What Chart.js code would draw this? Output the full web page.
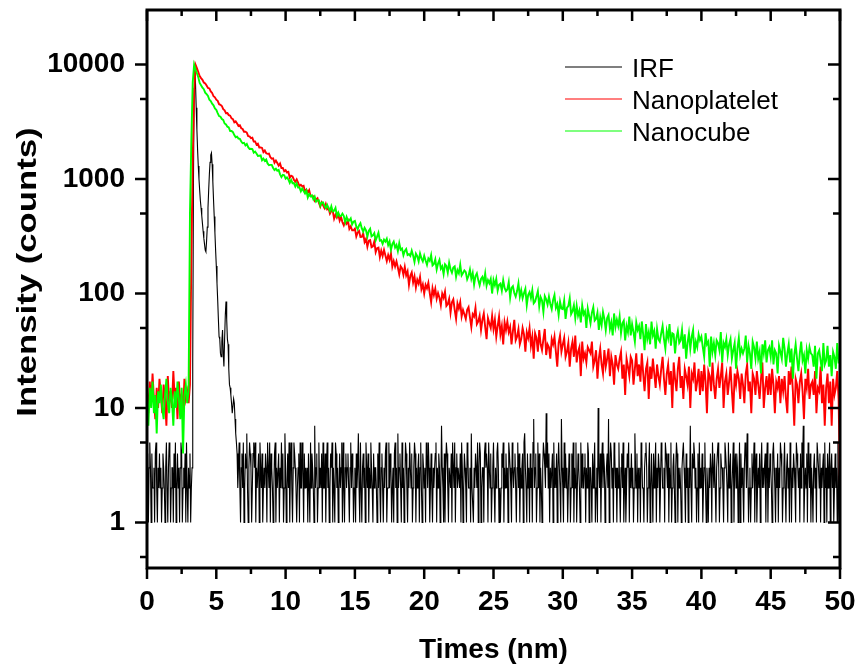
<!DOCTYPE html>
<html>
<head>
<meta charset="utf-8">
<title>PL decay</title>
<script src="https://cdn.jsdelivr.net/npm/chart.js@4.4.1/dist/chart.umd.min.js"></script>
<style>
  html, body { margin: 0; padding: 0; background: #fff; }
  #wrap { width: 862px; height: 672px; }
</style>
</head>
<body>
<div id="wrap"><canvas id="decayChart" width="862" height="672"></canvas></div>
<script>
// channel widths in ns
const irfStep = 0.05;
const plStep = 0.1;

const seriesLabels = ["IRF", "Nanoplatelet", "Nanocube"];
const seriesColors = ["#000000", "#ff0000", "#00ff00"];

// IRF counts, 0 - 3.25 ns
const irfBefore = [
  2,4,1,3,5,3,1,4,2,2,3,1,4,5,2,1,3,2,4,2,
  3,1,2,4,3,2,1,3,5,2,1,3,5,4,1,2,3,3,1,4,
  2,5,1,2,4,2,3,1,3,5,4,1,2,3,2,4,1,5,2,1,
  3,2,4,1,2,3
];
// IRF pulse, 3.30 - 6.45 ns
const irfPulse = [
  25,900,6200,10000,6800,4200,2700,1800,1300,1000,
  800,650,560,480,410,350,305,270,240,232,
  290,380,560,800,1100,1400,1620,1690,1350,950,
  660,470,340,240,174,123,88,60,42,40,
  30,28,38,48,30,23,40,65,85,60,
  40,36,22,16,15,13,11,9,9,12,
  11,8,6,5
];
// IRF background, 6.50 - 50 ns
const irfAfter = [
  4,2,3,5,2,1,3,4,2,5,1,2,4,3,6,2,1,3,5,4,
  3,1,2,4,5,3,5,1,3,2,2,4,1,5,3,2,4,1,2,3,
  2,4,3,1,5,3,2,5,1,4,3,2,1,2,4,5,1,3,2,2,
  4,1,3,2,5,2,4,1,2,6,3,1,2,4,2,5,1,3,5,2,
  1,3,5,4,3,2,1,2,3,4,1,5,2,2,5,3,1,4,2,3,
  2,3,1,4,2,1,5,2,4,3,2,1,7,2,3,4,1,2,5,2,
  3,2,4,1,5,2,2,4,1,3,5,2,3,1,2,4,3,5,1,3,
  2,1,5,4,2,3,1,2,4,2,3,5,1,5,2,1,3,4,2,3,
  4,2,1,3,5,2,4,3,1,2,3,1,4,2,3,6,2,1,5,2,
  1,3,4,2,3,1,5,3,2,4,1,3,2,5,3,2,1,4,2,3,
  3,2,1,4,2,5,2,1,3,4,2,1,3,2,4,5,1,2,2,5,
  2,4,3,1,2,3,1,4,5,2,3,1,6,2,3,4,2,1,5,2,
  3,1,2,5,4,2,1,3,2,5,3,2,4,1,2,3,5,4,1,3,
  2,3,4,1,3,5,2,1,4,3,2,3,1,5,4,2,5,3,1,2,
  4,2,1,3,2,3,4,5,1,3,2,4,3,1,2,7,3,2,1,4,
  1,3,5,4,2,1,3,3,2,4,1,5,3,2,5,1,3,4,2,3,
  3,2,4,1,5,3,1,2,4,3,2,1,5,4,2,2,3,1,6,2,
  2,1,3,2,4,3,2,5,1,3,5,4,1,2,3,3,1,4,5,3,
  4,3,1,5,3,2,4,1,2,3,5,2,1,3,2,4,5,3,1,2,
  1,2,4,3,5,1,3,2,4,2,3,1,5,4,3,2,1,5,3,2,
  3,4,2,1,3,5,2,4,1,3,2,3,4,1,5,6,3,2,1,4,
  2,3,1,4,2,3,1,5,8,2,3,4,1,2,5,2,4,1,3,2,
  1,3,5,4,3,2,9,3,5,2,4,1,3,2,2,4,1,5,2,3,
  2,4,1,3,5,3,2,1,8,3,2,1,5,2,4,2,3,1,2,4,
  3,1,2,4,2,5,1,3,2,5,1,2,4,3,2,1,5,2,4,2,
  2,3,4,1,3,2,5,4,1,3,3,2,1,4,2,3,5,1,2,3,
  1,10,3,2,4,1,3,5,2,4,3,1,2,3,4,2,8,1,3,5,
  4,2,3,1,5,4,2,3,1,3,2,5,2,1,3,4,2,5,1,2,
  3,1,2,4,3,5,1,3,2,4,2,3,1,2,6,3,2,4,1,3,
  2,3,1,5,4,2,2,1,3,4,5,3,1,2,3,5,1,2,4,2,
  1,4,2,3,5,1,3,2,4,3,1,2,5,4,2,2,3,1,5,4,
  3,2,4,1,3,2,5,1,2,3,4,2,1,3,5,4,1,3,2,3,
  2,1,3,4,5,3,2,1,4,2,3,1,3,2,7,2,1,4,3,5,
  4,2,3,1,2,4,1,5,2,3,2,4,1,2,3,5,2,1,3,2,
  1,3,2,4,3,1,5,3,2,4,2,1,3,4,5,3,1,2,4,3,
  3,2,1,3,5,4,3,2,1,5,2,3,4,1,2,3,5,1,3,4,
  2,4,3,1,2,5,1,4,2,3,2,1,3,5,4,2,6,3,1,2,
  3,1,2,4,2,3,5,1,3,4,1,2,3,2,4,1,3,5,2,3,
  2,3,4,1,3,5,1,3,2,4,3,2,1,4,5,3,2,1,3,2,
  4,1,3,2,5,4,3,1,2,3,5,2,1,3,4,2,3,1,5,3,
  1,3,2,4,3,2,1,5,4,3,2,3,1,4,2,5,3,7,1,2,
  3,2,4,1,5,3,2,4,1,3,2,1,3,4,2,3,1,5,5,3,
  2,4,1,3,2,3,4,1,5,2,3,1,4,2,3,5,1,3,4,2,
  3,1,2,4,2,3,1,5,2,1,1
];

// Nanoplatelet counts, every 0.1 ns from 0 to 50 ns (one row per ns)
const plateletCounts = [
  14,9,17,11,20,12,8,15,10,18,
  13,9,16,12,7,19,11,14,10,21,
  12,15,8,17,11,13,9,18,12,14,
  11,16,200,1500,5500,10000,9330,8610,7940,7620,
  7370,6980,6850,6560,6260,6190,5830,5650,5290,5180,
  4940,4830,4510,4460,4350,4080,3990,3760,3770,3620,
  3580,3390,3340,3130,3190,3060,2910,2950,2780,2740,
  2590,2590,2550,2370,2360,2280,2300,2130,2130,2000,
  2040,1890,1890,1870,1720,1780,1680,1660,1670,1550,
  1510,1520,1390,1450,1380,1310,1370,1250,1250,1170,
  1195,1140,1157,1030,1072,1057,988,949,994,930,
  870,892,862,873,777,808,760,800,711,705,
  707,645,665,681,621,575,625,592,559,605,
  545,557,498,525,529,450,488,460,493,433,
  466,421,394,428,407,432,367,386,357,357,
  369,315,342,352,312,313,336,282,300,256,
  289,293,254,258,285,230,249,252,208,237,
  213,241,215,192,217,197,225,172,192,172,
  191,169,147,173,166,146,171,144,156,119,
  143,153,125,141,113,132,122,140,109,120,
  100,119,111,124,101,84,111,97,110,90,
  101,92,79,100,92,104,78,81,90,68,
  84,89,72,60,82,74,84,63,72,66,
  60,72,76,62,51,66,63,75,54,57,
  64,48,59,67,51,40,61,55,50,64,
  49,59,42,52,63,44,52,36,56,48,
  57,46,51,36,47,59,39,42,49,36,
  40,50,44,31,46,41,50,35,42,27,
  45,41,31,48,36,32,40,49,29,36,
  34,27,40,36,42,31,23,37,43,31,
  36,41,28,31,37,23,33,38,28,43,
  25,31,34,19,38,27,30,25,34,32,
  30,38,23,26,32,18,27,33,24,20,
  32,23,27,33,19,28,24,16,29,24,
  22,27,31,18,24,13,27,23,19,28,
  26,16,22,30,19,24,17,30,20,14,
  22,25,12,23,18,27,20,15,24,19,
  16,22,28,18,13,20,24,16,21,10,
  25,18,14,22,28,15,19,12,22,19,
  16,23,10,20,18,25,14,17,22,13,
  21,14,24,17,9,21,19,14,25,16,
  12,18,22,15,19,25,10,17,20,13,
  17,23,14,9,20,16,21,18,12,20,
  16,11,20,24,14,17,9,20,18,13,
  21,16,12,18,25,10,15,19,13,20,
  13,22,16,9,17,15,19,11,18,14,
  19,12,9,21,16,23,14,7,18,16,
  11,17,20,14,8,18,15,22,12,16,
  17,13,21,9,15,14,23,11,16,7,
  15,20,11,17,7,18,13,15,21,12,
  2
];

// Nanocube counts, every 0.1 ns from 0 to 50 ns (one row per ns)
const cubeCounts = [
  12,7,15,10,17,9,13,6,14,11,
  16,10,8,13,18,11,9,15,12,7,
  14,10,17,12,8,15,4,13,16,11,
  14,500,2200,7000,10000,9100,8400,7760,6920,6600,
  6290,6100,5690,5510,5330,4930,4810,4560,4410,4140,
  4030,3770,3550,3510,3350,3290,3060,3000,2870,2830,
  2630,2630,2570,2420,2320,2350,2260,2250,2130,2060,
  2070,1970,2030,1900,1830,1840,1830,1700,1740,1670,
  1590,1600,1610,1460,1510,1440,1480,1370,1320,1330,
  1330,1250,1200,1230,1180,1200,1100,1040,1090,1080,
  1010,1034,994,926,983,921,923,862,918,843,
  845,782,827,786,750,795,691,738,705,721,
  667,704,635,651,652,586,622,626,586,559,
  595,558,526,578,522,528,560,478,510,474,
  476,499,475,420,467,433,434,453,402,425,
  431,386,364,393,412,370,347,375,357,314,
  352,368,316,322,337,292,314,340,290,293,
  272,296,284,301,265,285,241,270,284,252,
  266,235,276,241,247,216,236,245,217,221,
  213,237,215,189,223,212,191,224,203,191,
  214,194,178,202,193,217,176,181,199,162,
  183,197,165,173,148,180,174,152,186,163,
  152,169,173,140,160,150,179,144,151,159,
  154,133,143,162,135,151,120,142,150,131,
  118,134,140,125,150,117,131,123,134,100,
  131,118,134,106,119,122,106,131,112,105,
  109,126,92,112,116,101,94,105,123,94,
  107,91,101,110,79,97,103,91,107,82,
  85,94,105,77,93,87,69,95,89,80,
  94,81,73,88,97,75,81,65,85,74,
  73,87,60,75,78,91,66,70,79,61,
  78,64,71,56,79,66,70,50,74,64,
  55,68,76,58,60,68,48,62,53,69,
  60,48,61,65,49,56,43,67,51,59,
  52,63,45,55,58,39,52,46,63,43,
  54,46,38,56,48,52,40,57,44,32,
  54,40,46,36,57,43,47,33,49,40,
  38,45,52,40,33,47,41,54,35,45,
  44,30,41,47,37,39,48,33,44,27,
  37,45,33,42,48,30,38,34,44,39,
  42,34,28,45,36,38,23,42,31,37,
  29,39,37,32,46,25,37,34,40,29,
  36,40,27,32,37,22,33,41,29,33,
  30,33,43,25,35,30,22,38,34,27,
  38,27,31,20,36,30,39,25,32,34,
  28,39,24,32,30,20,35,31,27,41,
  33,23,30,36,25,33,18,29,36,27,
  21,30,38,26,29,20,32,27,34,30,
  29,23,35,18,30,32,26,21,37,24,
  26,35,23,29,19,31,28,22,37,25,
  25
];

const xTicks = [0, 5, 10, 15, 20, 25, 30, 35, 40, 45, 50];
const xMinorTicks = [2.5, 7.5, 12.5, 17.5, 22.5, 27.5, 32.5, 37.5, 42.5, 47.5];
const yTicks = [1, 10, 100, 1000, 10000];
const yMinorTicks = [0.5, 5, 50, 500, 5000];

const xTitle = "Times (nm)";
const yTitle = "Intensity (counts)";

const fontFamily = "'Liberation Sans', Arial, sans-serif";

function toPoints(counts, step) {
  return counts.map((c, i) => ({ x: Math.round(i * step * 100) / 100, y: c }));
}

const irfCounts = irfBefore.concat(irfPulse, irfAfter);

// frame, tick marks, y title and the legend inside the plot
const framePlugin = {
  id: "frame",
  afterDraw(chart) {
    const ctx = chart.ctx;
    const { left, right, top, bottom } = chart.chartArea;
    const xs = chart.scales.x;
    const ys = chart.scales.y;
    ctx.save();
    ctx.strokeStyle = "#000";
    ctx.lineWidth = 2.5;
    ctx.beginPath();
    const xMark = (v, len) => {
      const p = xs.getPixelForValue(v);
      ctx.moveTo(p, bottom); ctx.lineTo(p, bottom + len);
      ctx.moveTo(p, top); ctx.lineTo(p, top + len);
    };
    const yMark = (v, len) => {
      const p = ys.getPixelForValue(v);
      ctx.moveTo(left, p); ctx.lineTo(left - len, p);
      ctx.moveTo(right, p); ctx.lineTo(right - len, p);
    };
    xTicks.forEach(v => xMark(v, 11));
    xMinorTicks.forEach(v => xMark(v, 6));
    yTicks.forEach(v => yMark(v, 12));
    yMinorTicks.forEach(v => yMark(v, 7));
    ctx.stroke();

    ctx.lineWidth = 3;
    ctx.strokeRect(left, top, right - left, bottom - top);

    // y title, a little stretched along the axis like the original
    ctx.save();
    ctx.translate(28, 272);
    ctx.rotate(-Math.PI / 2);
    ctx.scale(1.24, 1);
    ctx.font = "bold 28px " + fontFamily;
    ctx.fillStyle = "#000";
    ctx.textAlign = "center";
    ctx.textBaseline = "middle";
    ctx.fillText(yTitle, 0, 0);
    ctx.restore();

    // legend
    ctx.font = "26px " + fontFamily;
    ctx.textAlign = "left";
    ctx.textBaseline = "alphabetic";
    chart.data.datasets.forEach((ds, i) => {
      const y = 67 + i * 32;
      ctx.strokeStyle = ds.borderColor;
      ctx.lineWidth = 1.2;
      ctx.beginPath();
      ctx.moveTo(565, y);
      ctx.lineTo(622, y);
      ctx.stroke();
      ctx.fillStyle = "#000";
      ctx.fillText(ds.label, 632, y + 10);
    });
    ctx.restore();
  }
};

const tickFont = { family: fontFamily, size: 28, weight: "bold" };
const titleFont = { family: fontFamily, size: 28, weight: "bold" };

new Chart(document.getElementById("decayChart"), {
  type: "line",
  data: {
    datasets: [
      { label: seriesLabels[0], data: toPoints(irfCounts, irfStep), borderColor: seriesColors[0], borderWidth: 1.1, order: 3 },
      { label: seriesLabels[1], data: toPoints(plateletCounts, plStep), borderColor: seriesColors[1], borderWidth: 1.9, order: 2 },
      { label: seriesLabels[2], data: toPoints(cubeCounts, plStep), borderColor: seriesColors[2], borderWidth: 1.9, order: 1 }
    ]
  },
  options: {
    responsive: false,
    animation: false,
    events: [],
    layout: { padding: { left: 0, right: 22, top: 10, bottom: 0 } },
    elements: {
      point: { radius: 0 },
      line: { tension: 0 }
    },
    plugins: {
      legend: { display: false },
      tooltip: { enabled: false }
    },
    scales: {
      x: {
        type: "linear",
        min: 0,
        max: 50,
        afterBuildTicks: s => { s.ticks = xTicks.map(v => ({ value: v })); },
        afterFit: s => { s.height = 104; s.paddingLeft = 0; s.paddingRight = 0; },
        grid: { display: false, drawTicks: false },
        border: { display: false },
        ticks: { font: tickFont, color: "#000", padding: 17, maxRotation: 0 },
        title: { display: true, text: xTitle, font: titleFont, color: "#000", padding: { top: 0, bottom: 5 } }
      },
      y: {
        type: "logarithmic",
        min: 0.4,
        max: 30000,
        afterBuildTicks: s => { s.ticks = yTicks.map(v => ({ value: v })); },
        afterFit: s => { s.width = 147; s.paddingTop = 0; s.paddingBottom = 0; },
        grid: { display: false, drawTicks: false },
        border: { display: false },
        ticks: { font: tickFont, color: "#000", padding: 22, callback: v => String(v) }
      }
    }
  },
  plugins: [framePlugin]
});
</script>
</body>
</html>
